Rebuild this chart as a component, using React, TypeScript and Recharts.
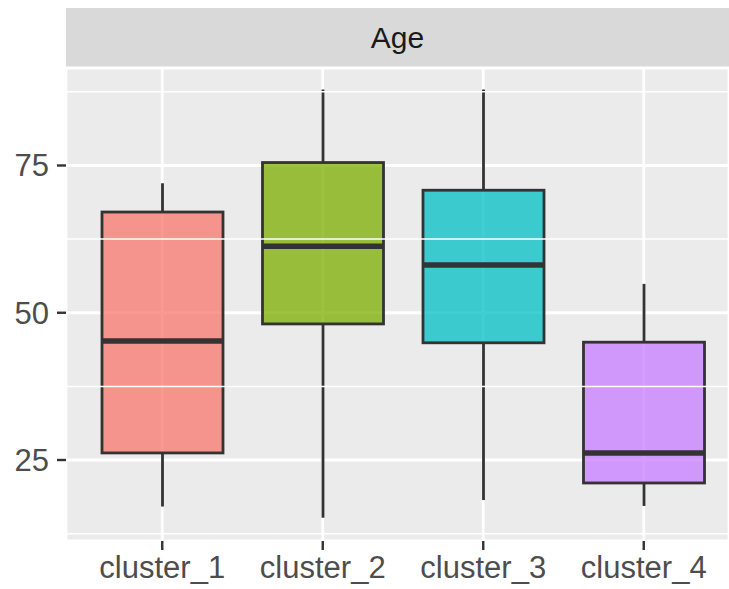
import React from 'react';
import { ComposedChart, Bar, XAxis, YAxis, CartesianGrid, ReferenceLine } from 'recharts';

const clusters = ['cluster_1', 'cluster_2', 'cluster_3', 'cluster_4'];
const whiskerLow = [17.1, 15.2, 18.2, 17.2];
const q1 = [26.2, 48.1, 44.9, 21.1];
const median = [45.2, 61.3, 58.1, 26.2];
const q3 = [67.1, 75.5, 70.8, 45.0];
const whiskerHigh = [72.0, 87.9, 87.9, 54.9];
const fills = ['#F8766D', '#7CAE00', '#00BFC4', '#C77CFF'];

const majorTicks = [25, 50, 75];
const minorTicks = [12.5, 37.5, 62.5, 87.5];

const data = clusters.map((name, i) => ({
  name,
  range: [whiskerLow[i], whiskerHigh[i]],
  q1: q1[i],
  median: median[i],
  q3: q3[i],
  fill: fills[i],
}));

const FONT = '"Liberation Sans", Arial, sans-serif';

// draws whiskers + box from the bar's [min, max] range rect
const BoxShape = (props: any) => {
  const { x, y, width, height, payload } = props;
  const [lo, hi] = payload.range;
  const ppu = height / (hi - lo);
  const py = (v: number) => y + (hi - v) * ppu;
  const cx = x + width / 2;
  return (
    <g>
      <line x1={cx} x2={cx} y1={py(hi)} y2={py(payload.q3)} stroke="#333333" strokeWidth={2.8} />
      <line x1={cx} x2={cx} y1={py(payload.q1)} y2={py(lo)} stroke="#333333" strokeWidth={2.8} />
      <rect
        x={x}
        y={py(payload.q3)}
        width={width}
        height={py(payload.q1) - py(payload.q3)}
        fill={payload.fill}
        fillOpacity={0.75}
        stroke="#333333"
        strokeWidth={2.8}
      />
      <line x1={x} x2={x + width} y1={py(payload.median)} y2={py(payload.median)} stroke="#333333" strokeWidth={5.5} />
    </g>
  );
};

const App: React.FC = () => {
  return (
    <div style={{ position: 'absolute', left: 0, top: 0, width: 729, height: 589, background: '#fff', fontFamily: FONT }}>
      <div
        style={{
          position: 'absolute', left: 66, top: 8, width: 663, height: 59, background: '#D9D9D9',
          display: 'flex', alignItems: 'center', justifyContent: 'center', color: '#1A1A1A', fontSize: 30,
        }}
      >
        Age
      </div>
      <ComposedChart width={729} height={589} data={data} margin={{ top: 68, right: 0, bottom: 0, left: 0 }}>
        <CartesianGrid fill="#EBEBEB" stroke="#FFFFFF" strokeWidth={2.8} />
        {minorTicks.map(t => (
          <ReferenceLine key={t} y={t} stroke="#FFFFFF" strokeWidth={1.5} ifOverflow="hidden" />
        ))}
        <XAxis
          dataKey="name"
          padding={{ left: 16, right: 5 }}
          height={48}
          axisLine={false}
          tickSize={9}
          tickMargin={6}
          tickLine={{ stroke: '#333333', strokeWidth: 2.4 }}
          tick={{ fontSize: 31, fill: '#4D4D4D', fontFamily: FONT }}
        />
        <YAxis
          type="number"
          domain={[11.25, 91.55]}
          allowDataOverflow
          ticks={majorTicks}
          width={66}
          axisLine={false}
          tickSize={9}
          tickMargin={8}
          tickLine={{ stroke: '#333333', strokeWidth: 2.4 }}
          tick={{ fontSize: 31, fill: '#4D4D4D', fontFamily: FONT }}
        />
        <Bar dataKey="range" barSize={121} shape={BoxShape} isAnimationActive={false} />
      </ComposedChart>
    </div>
  );
};

export default App;
